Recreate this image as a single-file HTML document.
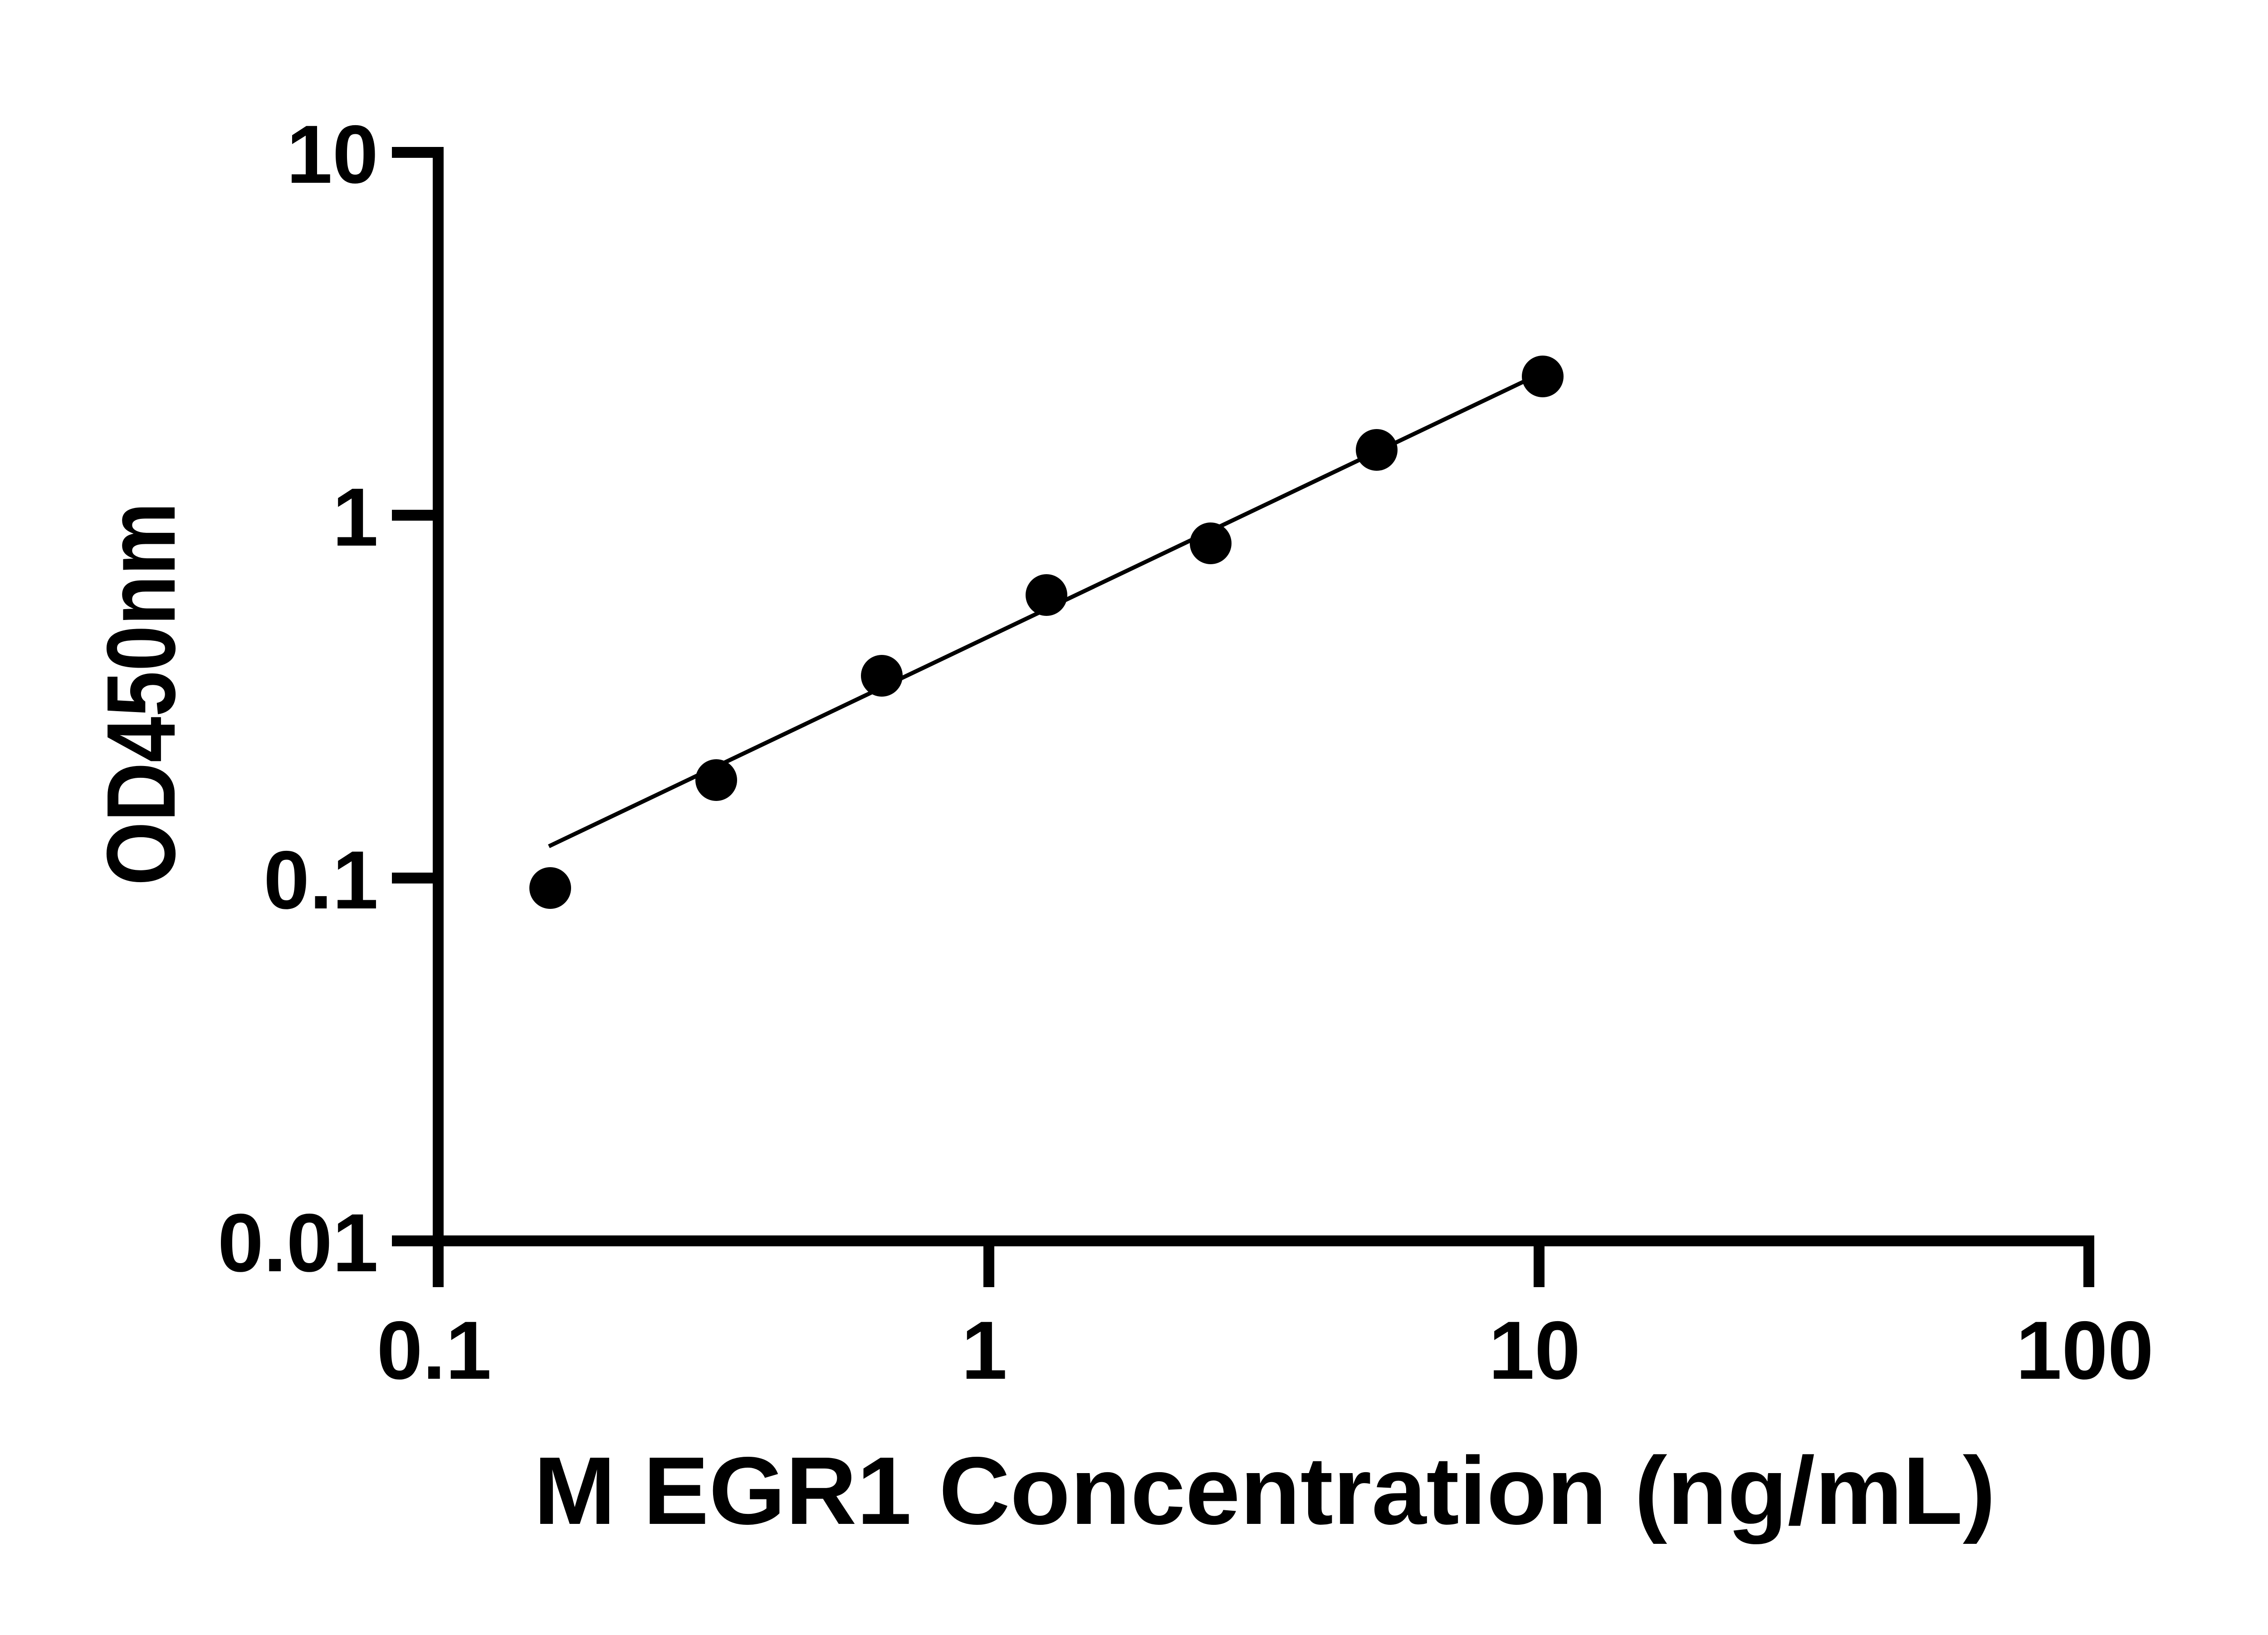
<!DOCTYPE html>
<html><head><meta charset="utf-8"><style>html,body{margin:0;padding:0;background:#fff}</style></head>
<body>
<svg width="5118" height="3600" viewBox="0 0 5118 3600" xmlns="http://www.w3.org/2000/svg">
<rect width="5118" height="3600" fill="#fff"/>
<g stroke="#000" stroke-width="24" fill="none">
<line x1="966" y1="324" x2="966" y2="2838"/>
<line x1="864" y1="2736" x2="4605" y2="2736"/>
<line x1="864" y1="336" x2="978" y2="336"/>
<line x1="864" y1="1136" x2="966" y2="1136"/>
<line x1="864" y1="1936" x2="966" y2="1936"/>
<line x1="2180" y1="2736" x2="2180" y2="2838"/>
<line x1="3393" y1="2736" x2="3393" y2="2838"/>
<line x1="4605" y1="2724" x2="4605" y2="2838"/>
</g>
<line x1="1210" y1="1866" x2="3362" y2="840" stroke="#000" stroke-width="9"/>
<g fill="#000">
<circle cx="1213" cy="1958" r="46"/>
<circle cx="1579" cy="1720" r="46"/>
<circle cx="1944" cy="1490" r="46"/>
<circle cx="2307" cy="1312" r="46"/>
<circle cx="2669" cy="1198" r="46"/>
<circle cx="3035" cy="992" r="46"/>
<circle cx="3401" cy="830" r="46"/>
</g>
<g font-family="Liberation Sans, Arial, sans-serif" font-weight="bold" font-size="182" fill="#000">
<g text-anchor="end">
<text x="834" y="403">10</text>
<text x="834" y="1203">1</text>
<text x="834" y="2003">0.1</text>
<text x="834" y="2803">0.01</text>
</g>
<g text-anchor="middle">
<text x="957" y="3040">0.1</text>
<text x="2170" y="3040">1</text>
<text x="3383" y="3040">10</text>
<text x="4596" y="3040">100</text>
</g>
<text x="2788" y="3360" text-anchor="middle" font-size="212" textLength="3223" lengthAdjust="spacingAndGlyphs">M EGR1 Concentration (ng/mL)</text>
<text transform="translate(385,1530) rotate(-90)" text-anchor="middle" font-size="215" textLength="845" lengthAdjust="spacingAndGlyphs">OD450nm</text>
</g>
</svg>
</body></html>
